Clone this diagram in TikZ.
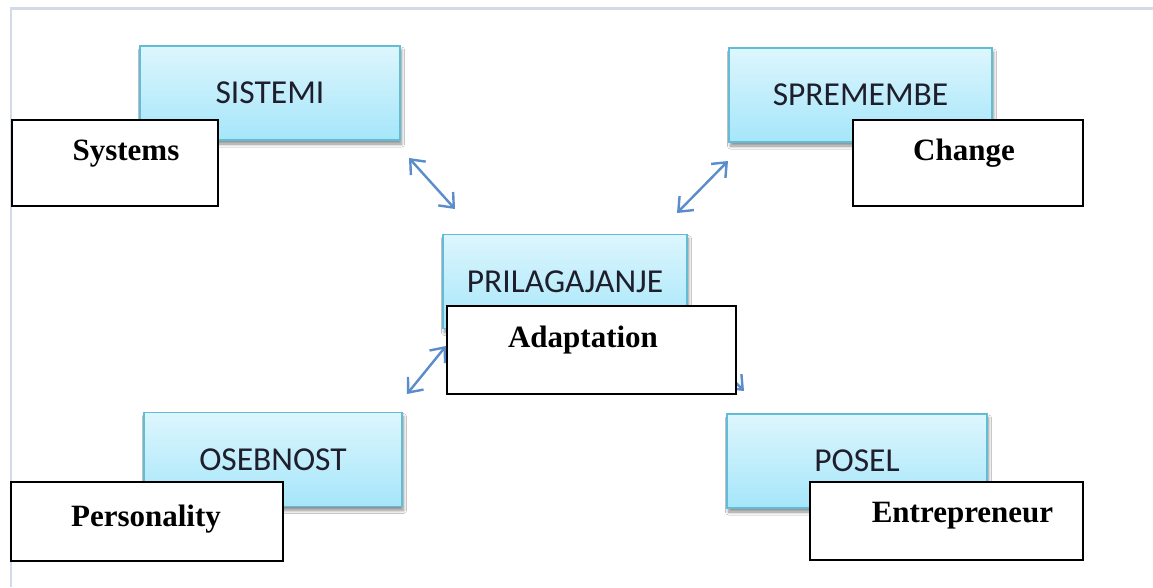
\documentclass[tikz,border=0pt]{standalone}
\usepackage{fontspec}
\setmainfont{Liberation Serif}
\newfontfamily\calfont{Carlito}
\usetikzlibrary{arrows.meta,shadows.blur}
\definecolor{framec}{HTML}{D3DAE8}
\definecolor{arrc}{HTML}{5B8CCC}
\definecolor{boxtop}{HTML}{DDF6FD}
\definecolor{boxbot}{HTML}{A5E6FA}
\definecolor{boxline}{HTML}{62BCD6}
\definecolor{captxt}{HTML}{1E1E2C}
\tikzset{
  bluebox/.style={draw=boxline, line width=1.5pt, top color=boxtop, bottom color=boxbot,
    minimum width=#1, minimum height=94pt, inner sep=0pt, font=\calfont\fontsize{33.5}{38}\selectfont, text=captxt,
    blur shadow={shadow xshift=1.5pt, shadow yshift=-4pt, shadow blur radius=3pt, shadow blur steps=8, shadow opacity=45}},
  whitebox/.style={draw=black, line width=2pt, fill=white, inner sep=0pt},
  wlabel/.style={font=\bfseries\fontsize{31}{36}\selectfont, anchor=base, inner sep=0pt},
  twoway/.style={arrc, line width=2.4pt, {Straight Barb[length=12pt,width=20pt]}-{Straight Barb[length=12pt,width=20pt]}}
}
\begin{document}
\begin{tikzpicture}[x=1pt,y=-1pt]
\useasboundingbox (0,0) rectangle (1153,587);
\fill[white] (0,0) rectangle (1153,587);
% frame
\coordinate (f1) at (1153,8.5);
\coordinate (f2) at (11,8.5);
\coordinate (f3) at (11,587);
\draw[framec, line width=2.5pt] (f1) -- (f2) -- (f3);
% arrows
\coordinate (a1s) at (409,158);
\coordinate (a1e) at (455,209);
\coordinate (a2s) at (728,161);
\coordinate (a2e) at (677,213);
\coordinate (a3s) at (446,346);
\coordinate (a3e) at (407,394);
\coordinate (a4s) at (694,340);
\coordinate (a4e) at (744,391);
\draw[twoway] (a1s) -- (a1e);
\draw[twoway] (a2s) -- (a2e);
\draw[twoway] (a3s) -- (a3e);
\draw[twoway] (a4s) -- (a4e);
% blue boxes
\node[bluebox=260pt] (sis) at (270,93) {SISTEMI};
\node[bluebox=263pt] (spr) at (860.5,95) {SPREMEMBE};
\node[bluebox=244pt] (pri) at (565,281.5) {PRILAGAJANJE};
\node[bluebox=258pt] (ose) at (273,459.5) {OSEBNOST};
\node[bluebox=260pt] (pos) at (857,461) {POSEL};
% white boxes
\node[whitebox, minimum width=206pt, minimum height=86pt] (sysb) at (115,163) {};
\node[whitebox, minimum width=230pt, minimum height=86pt] (chab) at (968,163) {};
\node[whitebox, minimum width=289pt, minimum height=88pt] (adab) at (591.5,350) {};
\node[whitebox, minimum width=272pt, minimum height=79pt] (perb) at (147,521.5) {};
\node[whitebox, minimum width=273pt, minimum height=78pt] (entb) at (946.5,521) {};
% labels
\node[wlabel] (syst) at (126,160) {Systems};
\node[wlabel] (chat) at (964,160) {Change};
\node[wlabel] (adat) at (583,347) {Adaptation};
\node[wlabel] (pert) at (146,526) {Personality};
\node[wlabel] (entt) at (962.5,522) {Entrepreneur};
\end{tikzpicture}
\end{document}
